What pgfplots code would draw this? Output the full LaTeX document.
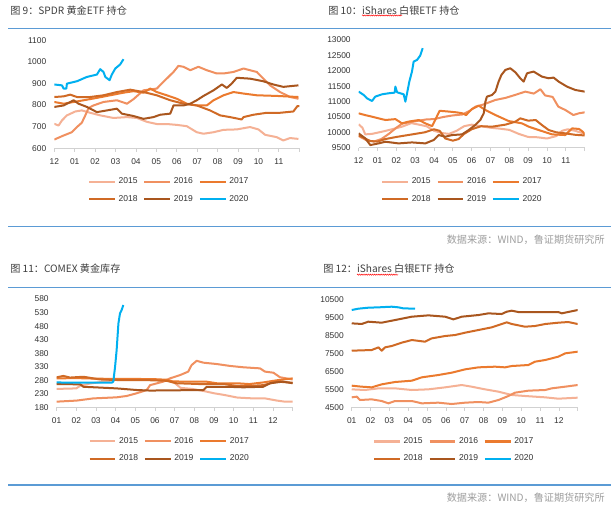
\documentclass[border=0pt]{standalone}
\usepackage{fontspec}
\setmainfont{Liberation Sans}
\newfontfamily\cjk{Noto Sans CJK SC}
\usepackage{pgfplots}
\pgfplotsset{compat=1.18}
\usetikzlibrary{decorations.pathmorphing}
\definecolor{c15}{HTML}{F5B195}
\definecolor{c16}{HTML}{F09060}
\definecolor{c17}{HTML}{EB7A2E}
\definecolor{c18}{HTML}{D06A25}
\definecolor{c19}{HTML}{A9561E}
\definecolor{c20}{HTML}{00B0F0}
\definecolor{rule}{HTML}{5B9BD5}
\definecolor{ttl}{HTML}{404040}
\pgfplotsset{
 panel/.style={
   scale only axis,
   anchor=south west,
   xmin=0, xmax=12,
   scaled y ticks=false,
   axis x line=bottom, axis y line=left,
   axis line style={-},
   y axis line style={draw=none},
   x axis line style={draw=black!18, line width=0.8pt},
   xtick={0,...,12},
   tick align=outside,
   xtick style={draw=black!18, line width=0.6pt},
   ytick style={draw=none},
   major tick length=2.5pt,
   tick label style={font=\fontsize{6.3}{7}\selectfont, text=black!80},
   xticklabel style={yshift=-1.6pt},
   no markers,
   every axis plot/.append style={line width=1.5pt, line join=round},
   legend columns=3,
   legend cell align=left,
   legend style={draw=none, fill=none, anchor=center,
     font=\fontsize{6.4}{7}\selectfont, text=black!80,
     column sep=0pt, row sep=3pt,
     /tikz/every even column/.append style={column sep=2.3pt}},
   legend image code/.code={\draw[#1, line width=1.7pt] (0pt,0pt) -- (19.3pt,0pt);},
 }
}
\begin{document}
\begin{tikzpicture}
\fill[white] (0,0) rectangle (458.25pt,-381pt);
\path[use as bounding box] (0,0) rectangle (458.25pt,-381pt);
% rules
\draw[rule, line width=0.8pt] (6pt,-21.5pt) -- (458.25pt,-21.5pt);
\draw[rule, line width=0.8pt] (6pt,-169.9pt) -- (458.25pt,-169.9pt);
\draw[rule, line width=0.8pt] (6pt,-215.5pt) -- (458.25pt,-215.5pt);
\draw[rule, line width=0.8pt] (6pt,-363.75pt) -- (458.25pt,-363.75pt);
% titles
\node[anchor=west, inner sep=0pt, text=ttl, font=\cjk\fontsize{7.6}{9}\selectfont] at (7.5pt,-8.25pt) {图 9：SPDR 黄金ETF 持仓};
\node[anchor=west, inner sep=0pt, text=ttl, font=\cjk\fontsize{7.6}{9}\selectfont] (t2) at (246pt,-7.7pt) {图 10：iShares 白银ETF 持仓};
\node[anchor=west, inner sep=0pt, text=ttl, font=\cjk\fontsize{7.6}{9}\selectfont] at (7.5pt,-201.75pt) {图 11：COMEX 黄金库存};
\node[anchor=west, inner sep=0pt, text=ttl, font=\cjk\fontsize{7.6}{9}\selectfont] at (242.25pt,-201.75pt) {图 12：iShares 白银ETF 持仓};
\draw[red, line width=0.35pt, decorate, decoration={snake, amplitude=0.45pt, segment length=1.6pt}] (271.5pt,-11.6pt) -- (301.5pt,-11.6pt);
\draw[red, line width=0.35pt, decorate, decoration={snake, amplitude=0.45pt, segment length=1.6pt}] (267.7pt,-206pt) -- (298.5pt,-206pt);
% sources
\node[anchor=east, inner sep=0pt, text=black!38, font=\cjk\fontsize{7.6}{9}\selectfont] at (453.75pt,-179.6pt) {数据来源：WIND，鲁证期货研究所};
\node[anchor=east, inner sep=0pt, text=black!38, font=\cjk\fontsize{7.6}{9}\selectfont] at (453.75pt,-373pt) {数据来源：WIND，鲁证期货研究所};

% ---------------- Panel 1: SPDR gold ETF
\begin{axis}[panel, at={(40.7pt,-111.15pt)}, width=183.75pt, height=81pt,
  ymin=600, ymax=1100, ytick={600,700,800,900,1000,1100},
  yticklabels={600,700,800,900,1000,1100},
  xticklabels={12,01,02,03,04,05,06,07,08,09,10,11,{}},
  legend style={at={(0.47,-0.392)}}]
\addplot[c15] coordinates {(0,713)(0.21,705)(0.38,729)(0.62,752)(1.03,770)(1.35,775)(1.76,764)(2.25,752)(2.9,740)(3.56,744)(4.05,740)(4.54,722)(5.02,712)(5.51,712)(6.0,708)(6.49,702)(6.98,674)(7.31,667)(7.8,674)(8.29,685)(8.94,687)(9.59,698)(10.0,687)(10.33,662)(10.9,651)(11.22,636)(11.55,647)(11.96,643)};
\addplot[c16] coordinates {(0,640)(0.46,659)(0.86,674)(1.11,698)(1.35,718)(1.52,752)(1.68,786)(1.92,798)(2.41,814)(3.07,822)(3.56,806)(3.88,827)(4.37,868)(5.02,876)(5.43,915)(5.84,953)(6.08,981)(6.33,977)(6.66,961)(7.06,977)(7.47,961)(7.96,946)(8.29,946)(8.78,953)(9.27,969)(9.59,961)(9.92,953)(10.24,922)(10.57,891)(11.06,860)(11.55,837)(11.96,829)};
\addplot[c17] coordinates {(0,814)(0.46,806)(0.95,814)(1.44,822)(2.09,833)(2.74,845)(3.39,857)(3.88,864)(4.37,857)(4.7,876)(5.02,860)(5.51,845)(6.0,829)(6.49,806)(6.98,798)(7.47,798)(7.8,822)(8.29,845)(8.78,860)(9.27,853)(9.92,845)(10.9,842)(11.96,837)};
\addplot[c18] coordinates {(0,837)(0.46,840)(0.78,848)(1.11,837)(1.76,837)(2.41,845)(3.07,860)(3.72,871)(4.37,860)(5.02,845)(5.68,822)(6.33,806)(6.98,798)(7.63,775)(8.12,752)(8.61,744)(9.18,733)(9.27,744)(9.76,755)(10.41,764)(11.06,764)(11.71,770)(11.91,795)(12,795)};
\addplot[c19] coordinates {(0,791)(0.46,798)(0.95,822)(1.19,806)(1.6,791)(2.09,767)(2.58,775)(3.07,783)(3.31,760)(3.88,749)(4.37,736)(4.86,744)(5.19,755)(5.68,760)(5.84,798)(6.33,798)(6.66,806)(6.98,822)(7.31,842)(7.8,868)(8.21,895)(8.45,879)(8.69,899)(8.94,926)(9.59,922)(10.24,910)(10.73,895)(11.22,884)(11.96,891)};
\addplot[c20] coordinates {(0,895)(0.375,891)(0.46,876)(0.59,876)(0.62,899)(1.11,910)(1.6,930)(2.09,941)(2.25,966)(2.41,953)(2.5,930)(2.71,915)(2.82,941)(2.99,969)(3.23,988)(3.39,1012)};
\legend{2015,2016,2017,2018,2019,2020}
\end{axis}

% ---------------- Panel 2: iShares silver ETF
\begin{axis}[panel, at={(269pt,-110.8pt)}, width=169.5pt, height=80.8pt,
  ymin=9500, ymax=13000, ytick={9500,10000,10500,11000,11500,12000,12500,13000},
  yticklabels={9500,10000,10500,11000,11500,12000,12500,13000},
  xticklabels={12,01,02,03,04,05,06,07,08,09,10,11,{}},
  legend style={at={(0.46,-0.397)}}]
\addplot[c15] coordinates {(0,10260)(0.2,10150)(0.35,9934)(0.7,9950)(1.24,10021)(1.77,10100)(2.3,10184)(2.8,10300)(3.2,10250)(3.6,10200)(4.0,10050)(4.4,9980)(4.8,9950)(5.2,10050)(5.6,10200)(6.0,10250)(6.5,10200)(7.0,10150)(7.5,10120)(8.0,10080)(8.5,9950)(9.0,9850)(9.5,9840)(10.0,9800)(10.5,9880)(10.8,10050)(11.1,10100)(11.5,10050)(12,9950)};
\addplot[c16] coordinates {(0,9880)(0.4,9750)(0.8,9700)(1.2,9780)(1.6,9950)(2.0,10150)(2.3,10280)(2.7,10330)(3.2,10380)(3.6,10420)(4.0,10430)(4.5,10500)(5.0,10550)(5.5,10580)(5.9,10700)(6.2,10835)(6.6,10900)(7.26,11052)(7.8,11120)(8.3,11214)(8.85,11323)(9.3,11260)(9.65,11400)(9.9,11200)(10.3,11150)(10.6,10835)(10.97,10727)(11.4,10563)(11.7,10620)(12,10650)};
\addplot[c17] coordinates {(0,10618)(0.35,10560)(0.71,10509)(1.42,10401)(1.95,10430)(2.3,10292)(2.65,10350)(3.2,10401)(3.54,10292)(3.9,10200)(4.1,10450)(4.3,10700)(4.7,10680)(5.2,10650)(5.5,10620)(5.7,10560)(6.0,10750)(6.37,10867)(6.73,10727)(7.26,10563)(7.96,10368)(8.67,10292)(9.03,10184)(9.56,10075)(10.27,9934)(10.97,9912)(11.33,10129)(11.7,10110)(11.9,10020)(12,9934)};
\addplot[c18] coordinates {(0,9900)(0.35,9800)(0.6,9720)(1.0,9700)(1.4,9780)(2.0,9850)(2.5,9900)(3.0,9950)(3.5,10000)(4.0,10100)(4.3,10050)(4.6,9800)(5.0,9730)(5.3,9780)(5.6,9950)(6.0,10100)(6.5,10200)(7.08,10184)(7.79,10250)(8.32,10346)(8.58,10455)(9.0,10380)(9.4,10400)(9.73,10238)(10.09,10075)(10.5,10000)(10.97,9967)(11.5,9920)(12,9900)};
\addplot[c19] coordinates {(0,9967)(0.35,9804)(0.62,9587)(1.06,9641)(1.42,9695)(2.12,9641)(2.83,9673)(3.54,9641)(3.98,9750)(4.25,9912)(4.6,9858)(4.96,9912)(5.49,9934)(5.84,10075)(6.19,10238)(6.46,10401)(6.64,10618)(6.73,10997)(6.81,11160)(7.08,11214)(7.26,11323)(7.43,11648)(7.58,11865)(7.79,12028)(8.05,12082)(8.32,11952)(8.58,11757)(8.76,11648)(8.94,11919)(9.29,11974)(9.73,11811)(10.09,11757)(10.35,11779)(10.62,11648)(11.06,11486)(11.5,11377)(12,11323)};
\addplot[c20] coordinates {(0,11323)(0.27,11214)(0.44,11106)(0.71,11019)(0.88,11160)(1.24,11236)(1.59,11269)(1.91,11290)(1.95,11486)(2.04,11301)(2.39,11236)(2.48,10997)(2.57,11269)(2.69,11648)(2.83,11974)(2.92,12299)(3.1,12354)(3.27,12495)(3.4,12733)};
\legend{2015,2016,2017,2018,2019,2020}
\end{axis}

% ---------------- Panel 3: COMEX gold inventory
\begin{axis}[panel, at={(42.5pt,-305.5pt)}, width=177pt, height=81.2pt,
  ymin=180, ymax=580, ytick={180,230,280,330,380,430,480,530,580},
  yticklabels={180,230,280,330,380,430,480,530,580},
  xticklabels={01,02,03,04,05,06,07,08,09,10,11,12,{}},
  legend style={at={(0.48,-0.394)}}]
\addplot[c15] coordinates {(0,248)(1.0,250)(1.2,260)(1.7,268)(2.5,276)(3.05,282)(4.5,283)(5.6,280)(6.0,270)(6.3,252)(6.9,248)(7.5,240)(8.0,232)(8.5,226)(9.2,216)(10.0,213)(10.6,213)(11.2,205)(11.6,201)(12,201)};
\addplot[c16] coordinates {(0,201)(1.02,205)(1.86,213)(3.05,217)(3.56,222)(4.07,232)(4.58,244)(4.75,262)(5.42,275)(5.76,287)(6.27,299)(6.69,312)(6.86,336)(7.12,352)(7.46,345)(8.14,340)(8.81,333)(9.49,328)(10.34,324)(10.59,312)(11.02,308)(11.36,291)(12,283)};
\addplot[c17] coordinates {(0,287)(1,288)(2,286)(3,285)(4,285)(5,284)(5.6,282)(5.9,276)(6.5,275)(7.6,275)(8.14,269)(9.15,269)(9.8,266)(10.5,272)(11.2,280)(12,287)};
\addplot[c18] coordinates {(0,291)(0.34,296)(0.68,290)(1.36,293)(2.2,283)(3.05,281)(4.4,281)(5.6,278)(6.1,269)(7.3,266)(8.5,266)(9.15,259)(9.8,259)(10.5,262)(11.2,275)(12,271)};
\addplot[c19] coordinates {(0,266)(1.2,265)(1.36,256)(3.05,250)(4.07,244)(4.75,242)(7.46,244)(7.63,256)(8.64,256)(9.49,254)(10.5,256)(10.85,269)(11.5,275)(12,269)};
\addplot[c20] coordinates {(0,272)(1,271)(2,271)(2.8,271)(2.88,275)(2.97,330)(3.05,392)(3.14,490)(3.22,527)(3.3,539)(3.39,558)};
\legend{2015,2016,2017,2018,2019,2020}
\end{axis}

% ---------------- Panel 4: iShares silver ETF (Jan-Dec)
\begin{axis}[panel, at={(263.8pt,-305.5pt)}, width=169.5pt, height=80.5pt,
  ymin=4500, ymax=10500, ytick={4500,5500,6500,7500,8500,9500,10500},
  yticklabels={4500,5500,6500,7500,8500,9500,10500},
  xticklabels={01,02,03,04,05,06,07,08,09,10,11,12,{}},
  legend style={at={(0.455,-0.398)}}]
\addplot[c15] coordinates {(0,5506)(0.71,5469)(1.42,5562)(2.3,5562)(3.19,5469)(4.07,5506)(4.96,5618)(5.84,5748)(6.37,5655)(7.08,5506)(7.79,5376)(8.5,5190)(9.2,5134)(10.27,5059)(10.97,4984)(12,5040)};
\addplot[c16] coordinates {(0,5059)(0.27,5096)(0.44,4910)(1.06,4947)(1.59,4854)(1.95,4724)(2.3,4854)(3.19,4854)(3.72,4724)(4.6,4761)(5.31,4686)(6.02,4761)(6.73,4798)(7.26,4761)(7.79,4910)(8.32,5134)(8.67,5320)(9.38,5432)(10.27,5469)(10.62,5562)(11.33,5655)(12,5748)};
\addplot[c17] coordinates {(0,5711)(0.53,5655)(1.06,5618)(1.59,5785)(2.3,5916)(3.19,5990)(3.72,6177)(4.6,6307)(5.31,6438)(6.02,6624)(6.73,6736)(7.61,6773)(8.14,6736)(8.5,6810)(9.38,6866)(9.73,7052)(10.27,7145)(10.97,7332)(11.33,7518)(12,7611)};
\addplot[c18] coordinates {(0,7667)(1.06,7704)(1.42,7853)(1.59,7667)(1.77,7853)(2.12,7928)(2.65,8114)(3.19,8263)(3.89,8170)(4.25,8356)(4.96,8487)(5.49,8543)(6.02,8673)(6.73,8822)(7.43,8971)(8.23,9251)(8.5,9158)(9.2,9008)(9.73,9046)(10.27,9158)(10.97,9232)(11.5,9269)(12,9158)};
\addplot[c19] coordinates {(0,9195)(0.53,9160)(0.88,9288)(1.59,9232)(2.3,9381)(3.19,9567)(4.07,9642)(4.96,9567)(5.4,9418)(5.84,9567)(6.73,9660)(7.26,9754)(7.96,9716)(8.23,9847)(8.5,9903)(8.85,9828)(9.56,9828)(10.27,9828)(10.97,9828)(11.15,9754)(12,9940)};
\addplot[c20] coordinates {(0,9940)(0.35,10015)(0.88,10070)(1.42,10090)(2.12,10126)(2.48,10090)(2.74,10033)(3.36,10015)};
\legend{2015,2016,2017,2018,2019,2020}
\end{axis}
\end{tikzpicture}
\end{document}
